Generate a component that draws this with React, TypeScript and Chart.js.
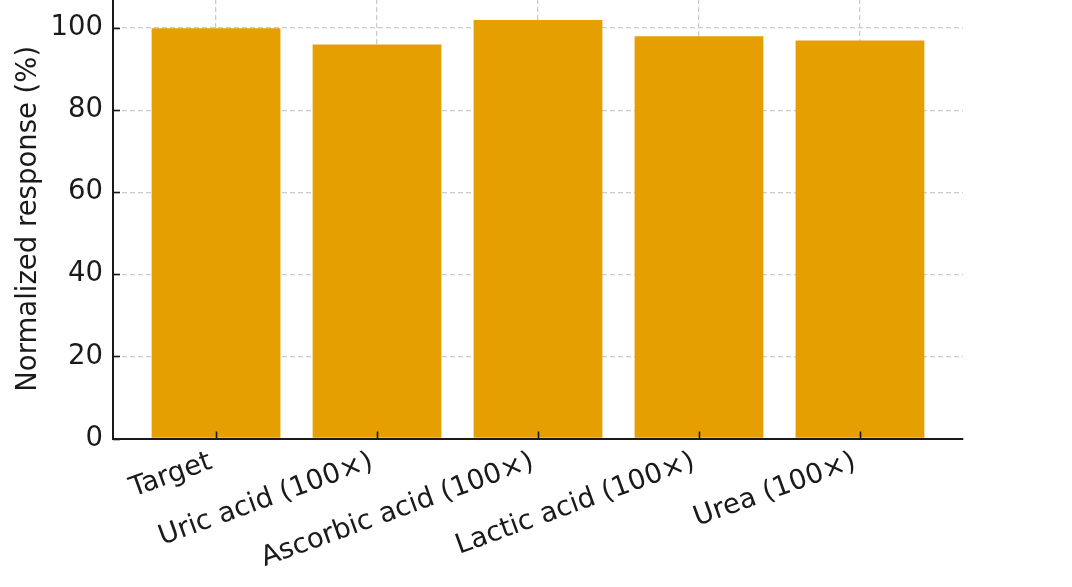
import React, { useEffect, useRef } from "react";
import { Chart, registerables } from "chart.js";

Chart.register(...registerables);

const CATEGORIES = [
  "Target",
  "Uric acid (100×)",
  "Ascorbic acid (100×)",
  "Lactic acid (100×)",
  "Urea (100×)",
];
const RESPONSE = [100, 96, 102, 98, 97];
const Y_TICKS = [0, 20, 40, 60, 80, 100];
const Y_TITLE = "Normalized response (%)";

const FONT = "'DejaVu Sans', 'Liberation Sans', sans-serif";
const TEXT = "#1a1a1a";
const GRID = "#cccccc";
const BAR = "#E69F00";

const CANVAS_TOP = -30;
const CANVAS_W = 1072;
const CANVAS_H = 617;

const inwardTicks = {
  id: "inwardTicks",
  afterDraw(chart: any) {
    const { ctx, chartArea, scales } = chart;
    ctx.save();
    ctx.strokeStyle = TEXT;
    ctx.lineWidth = 1.6;
    scales.y.ticks.forEach((t: any) => {
      const py = Math.round(scales.y.getPixelForValue(t.value)) + 0.5;
      ctx.beginPath();
      ctx.moveTo(chartArea.left, py);
      ctx.lineTo(chartArea.left + 7, py);
      ctx.stroke();
    });
    scales.x.ticks.forEach((t: any) => {
      const px = Math.round(scales.x.getPixelForValue(t.value)) + 0.5;
      ctx.beginPath();
      ctx.moveTo(px, chartArea.bottom);
      ctx.lineTo(px, chartArea.bottom - 7);
      ctx.stroke();
    });
    ctx.restore();
  },
};

export default function App() {
  const ref = useRef<HTMLCanvasElement | null>(null);

  useEffect(() => {
    if (!ref.current) return;
    const chart = new Chart(ref.current, {
      type: "bar",
      data: {
        datasets: [
          {
            data: RESPONSE.map((v, i) => ({ x: i, y: v })),
            backgroundColor: BAR,
            borderWidth: 0,
            categoryPercentage: 1.0,
            barPercentage: 0.8,
          },
        ],
      },
      options: {
        animation: false,
        responsive: false,
        devicePixelRatio: 1,
        layout: { padding: { top: 29, right: 109, left: 0, bottom: 0 } },
        plugins: {
          legend: { display: false },
          tooltip: { enabled: false },
        },
        scales: {
          x: {
            type: "linear",
            min: -0.64,
            max: 4.64,
            offset: false,
            z: 1,
            afterBuildTicks: (scale: any) => {
              scale.ticks = CATEGORIES.map((_, i) => ({ value: i }));
            },
            afterFit: (scale: any) => {
              scale.height = CANVAS_H - 468.5;
            },
            ticks: {
              autoSkip: false,
              minRotation: 20,
              maxRotation: 20,
              padding: 7,
              labelOffset: -5,
              color: TEXT,
              font: { family: FONT, size: 27.5 },
              callback: (v: any) => CATEGORIES[v as number] ?? "",
            },
            grid: {
              offset: false,
              color: GRID,
              lineWidth: 1.3,
              drawTicks: false,
            },
            border: { display: true, color: TEXT, width: 2, dash: [5, 3] },
          },
          y: {
            type: "linear",
            min: 0,
            max: 107.1,
            z: 1,
            afterBuildTicks: (scale: any) => {
              scale.ticks = Y_TICKS.map((v) => ({ value: v }));
            },
            afterFit: (scale: any) => {
              scale.width = 113;
            },
            ticks: {
              padding: 10,
              color: TEXT,
              font: { family: FONT, size: 27.5 },
            },
            grid: {
              color: GRID,
              lineWidth: 1.3,
              drawTicks: false,
            },
            border: { display: true, color: TEXT, width: 2, dash: [5, 3] },
            title: {
              display: true,
              text: Y_TITLE,
              color: TEXT,
              font: { family: FONT, size: 27.5 },
              padding: { top: 12, bottom: 0 },
            },
          },
        },
      },
      plugins: [inwardTicks],
    });
    return () => chart.destroy();
  }, []);

  return (
    <div
      style={{
        position: "absolute",
        left: 0,
        top: CANVAS_TOP,
        width: CANVAS_W,
        height: CANVAS_H,
        background: "#fff",
      }}
    >
      <canvas ref={ref} width={CANVAS_W} height={CANVAS_H} />
    </div>
  );
}
